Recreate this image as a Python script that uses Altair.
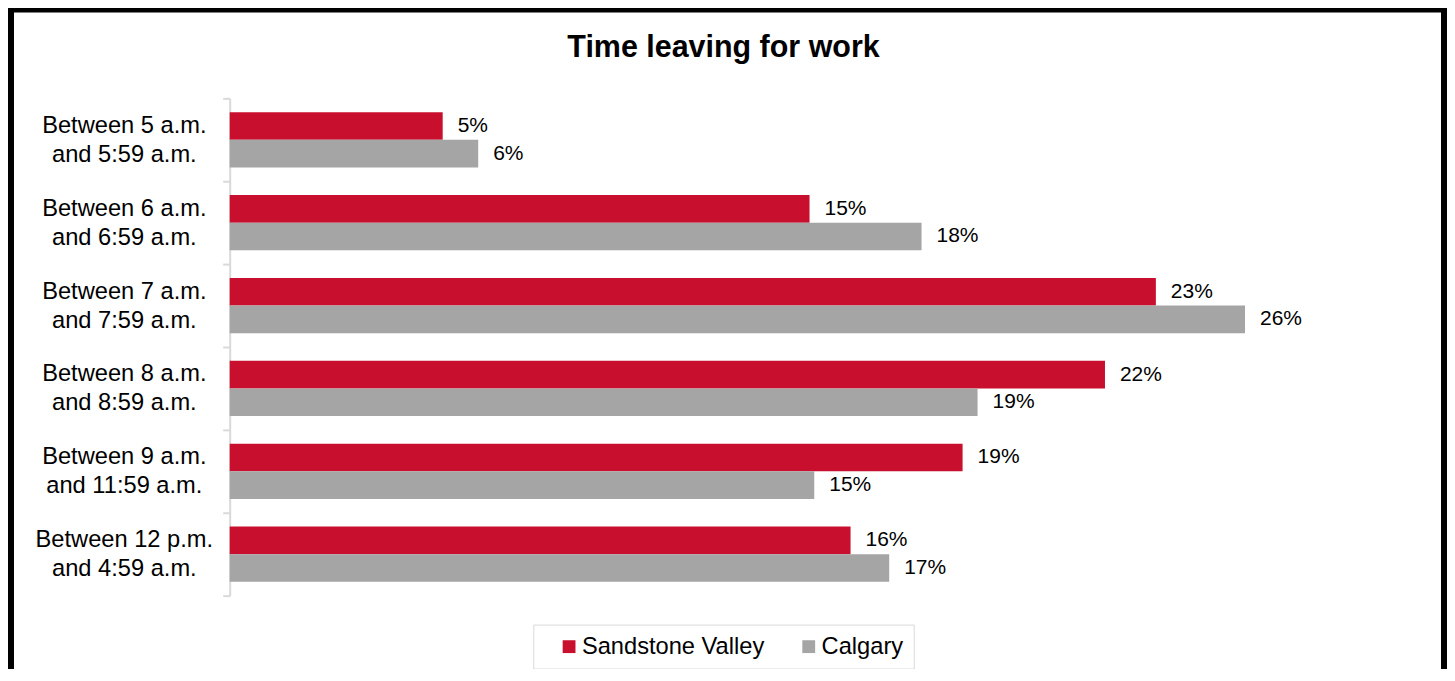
import altair as alt
import pandas as pd

categories = [
    "Between 5 a.m. and 5:59 a.m.",
    "Between 6 a.m. and 6:59 a.m.",
    "Between 7 a.m. and 7:59 a.m.",
    "Between 8 a.m. and 8:59 a.m.",
    "Between 9 a.m. and 11:59 a.m.",
    "Between 12 p.m. and 4:59 a.m.",
]
series = ["Sandstone Valley", "Calgary"]
sandstone = [5.40, 14.70, 23.48, 22.19, 18.58, 15.74]
calgary = [6.30, 17.54, 25.74, 18.96, 14.82, 16.72]
colors = ["#C8102E", "#A5A5A5"]

rows = []
for i, c in enumerate(categories):
    rows.append({"cat": c, "series": series[0], "value": sandstone[i]})
    rows.append({"cat": c, "series": series[1], "value": calgary[i]})
df = pd.DataFrame(rows)

FONT = "Liberation Sans"

y_enc = alt.Y(
    "cat:N",
    sort=categories,
    scale=alt.Scale(paddingInner=0, paddingOuter=0),
    axis=alt.Axis(
        title=None,
        labelFont=FONT,
        labelFontSize=23.7,
        labelLineHeight=29,
        labelColor="#000000",
        labelAlign="center",
        labelBaseline="middle",
        labelOffset=-14.5,
        labelPadding=99,
        labelLimit=400,
        labelExpr="[substring(datum.label, 0, indexof(datum.label, ' and ')), substring(datum.label, indexof(datum.label, ' and ') + 1)]",
        tickBand="extent",
        tickSize=7,
        tickColor="#D9D9D9",
        tickWidth=2,
        domainColor="#D9D9D9",
        domainWidth=2,
        grid=False,
    ),
)
yoff = alt.YOffset("series:N", sort=series, scale=alt.Scale(paddingOuter=0.5, paddingInner=0))
x_enc = alt.X("value:Q", scale=alt.Scale(domain=[0, 30], nice=False, zero=True), axis=None)

base = alt.Chart(df)

bars = base.mark_bar(cornerRadius=0).encode(
    y=y_enc,
    yOffset=yoff,
    x=x_enc,
    color=alt.Color(
        "series:N",
        sort=series,
        scale=alt.Scale(domain=series, range=colors),
        legend=alt.Legend(
            title=None,
            orient="none",
            direction="horizontal",
            legendX=304,
            legendY=527,
            symbolType="square",
            symbolSize=165,
            symbolStrokeWidth=0,
            symbolOffset=14,
            labelFont=FONT,
            labelFontSize=23.7,
            labelColor="#000000",
            labelOffset=1,
            columnPadding=18,
            padding=10,
            strokeColor="#D9D9D9",
            labelLimit=400,
        ),
    ),
)

texts = base.transform_calculate(
    lbl="format(datum.value, '.0f') + '%'"
).mark_text(
    align="left", baseline="middle", dx=15, font=FONT, fontSize=21, color="#000000"
).encode(
    y=alt.Y("cat:N", sort=categories),
    yOffset=alt.YOffset("series:N", sort=series),
    x=alt.X("value:Q"),
    text="lbl:N",
)

frame = alt.Chart(alt.Data(values=[{"f": 1}])).mark_rect(
    fillOpacity=0, stroke="#000000", strokeWidth=6
).encode(
    x=alt.value(-219),
    x2=alt.value(1216),
    y=alt.value(-89),
    y2=alt.value(640),
)

chart = alt.layer(frame, bars, texts).properties(
    width=1185,
    height=498,
    autosize=alt.AutoSizeParams(type="none"),
    padding={"left": 222, "top": 90, "right": 34, "bottom": 73},
    title=alt.TitleParams(
        "Time leaving for work",
        font=FONT,
        fontSize=30.5,
        fontWeight="bold",
        color="#000000",
        anchor="middle",
        offset=0,
        baseline="alphabetic",
        dx=-98,
        dy=81,
    ),
).configure(background="#ffffff").configure_view(stroke="transparent")

chart.save("out.html", embed_options={"renderer": "svg", "actions": False})
